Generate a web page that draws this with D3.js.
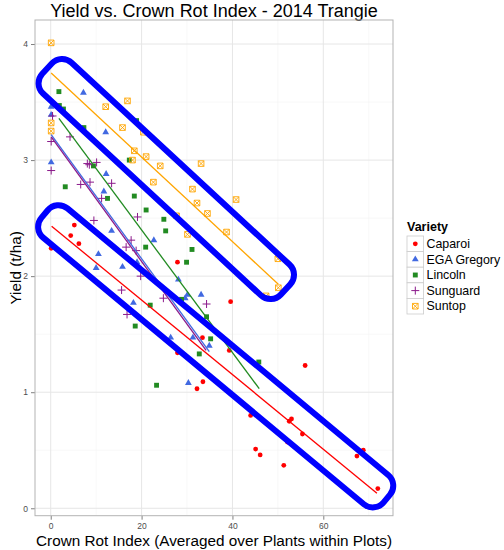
<!DOCTYPE html>
<html>
<head>
<meta charset="utf-8">
<title>Yield vs. Crown Rot Index - 2014 Trangie</title>
<script src="https://d3js.org/d3.v7.min.js"></script>
<style>
  body { margin: 0; background: #fff; }
  svg { display: block; font-family: "Liberation Sans", Arial, sans-serif; }
</style>
</head>
<body>
<div id="chart"></div>
<script>
// ---- data ----
const varieties = ["Caparoi", "EGA Gregory", "Lincoln", "Sunguard", "Suntop"];
const colours = ["#FF0000", "#4169E1", "#228B22", "#8B1A8B", "#FFA500"];

const caparoiX = [0.1, 4.4, 5.2, 6.2, 27.9, 39.6, 33.4, 27.9, 39.3, 56.0, 33.5, 32.2, 44.0, 52.5, 53.0, 55.4, 52.1, 45.1, 46.1, 51.3, 68.8, 67.4, 72.0];
const caparoiY = [2.24, 2.35, 2.44, 2.28, 2.12, 1.78, 1.47, 1.34, 1.36, 1.23, 1.09, 1.03, 0.80, 0.75, 0.77, 0.64, 0.57, 0.51, 0.46, 0.37, 0.50, 0.45, 0.17];

const gregoryX = [0.1, 0.1, 7.2, 12.1, 0.1, 12.2, 11.7, 13.4, 22.7, 10.5, 10.0, 15.8, 19.0, 28.1, 18.2, 29.6, 30.1, 33.1, 26.4, 31.3, 34.9, 30.3];
const gregoryY = [3.46, 3.39, 3.58, 3.24, 2.98, 2.88, 2.73, 2.39, 2.31, 2.19, 2.07, 2.08, 2.12, 1.97, 1.77, 1.81, 1.84, 1.84, 1.47, 1.47, 1.40, 1.08];

const lincolnX = [1.8, 1.9, 2.8, 7.3, 18.9, 17.3, 9.4, 3.2, 18.4, 12.5, 21.0, 24.9, 25.3, 20.9, 31.1, 29.9, 21.9, 28.8, 18.6, 34.3, 35.2, 32.7, 45.8, 23.3];
const lincolnY = [3.59, 3.47, 3.44, 3.28, 3.34, 3.00, 2.95, 2.77, 2.69, 2.67, 2.57, 2.49, 2.39, 2.25, 2.23, 2.12, 1.75, 1.80, 1.57, 1.65, 1.46, 1.33, 1.26, 1.06];

const sunguardX = [0.4, 4.25, 0.1, 0.1, 8.06, 8.5, 10.1, 6.6, 8.65, 13.4, 11.2, 19.1, 9.5, 17.7, 16.6, 18.8, 19.8, 15.6, 16.8, 24.8, 34.3];
const sunguardY = [3.38, 3.20, 3.16, 2.91, 2.97, 2.96, 2.98, 2.79, 2.81, 2.80, 2.67, 2.51, 2.48, 2.31, 2.25, 2.22, 2.00, 1.88, 1.67, 1.81, 1.76];

const suntopX = [0.1, 12.1, 16.9, 0.1, 15.8, 0.1, 20.4, 18.4, 21.0, 18.0, 24.1, 33.1, 22.6, 31.2, 32.2, 40.8, 34.5, 27.7, 30.1, 38.7, 50.0, 50.1, 47.4];
const suntopY = [4.01, 3.46, 3.51, 3.32, 3.28, 3.25, 3.24, 3.08, 3.03, 3.00, 2.95, 2.97, 2.81, 2.75, 2.63, 2.66, 2.54, 2.52, 2.36, 2.38, 2.15, 1.90, 1.83];

// fitted lines (one per variety, same order), end points
const fitX0 = [0.2, 0.1, 1.8, 0.1, 0.1];
const fitY0 = [2.43, 3.22, 3.36, 3.20, 3.75];
const fitX1 = [71.8, 34.9, 45.9, 34.2, 50.1];
const fitY1 = [0.13, 1.35, 1.03, 1.36, 1.93];

const xTicks = [0, 20, 40, 60];
const yTicks = [0, 1, 2, 3, 4];

// blue highlight bands: centre line end points in data units
const bandStart = [[-0.81, 3.788], [-1.36, 2.535]];
const bandEnd = [[51.68, 1.885], [73.98, 0.084]];

// ---- layout ----
const width = 504, height = 550;
const panel = {left: 35, right: 393, top: 20, bottom: 515.7};

const svg = d3.select("#chart").append("svg")
    .attr("width", width)
    .attr("height", height);

const x = d3.scaleLinear().domain([-3.46, 75.34]).range([panel.left, panel.right]);
const y = d3.scaleLinear().domain([-0.064, 4.207]).range([panel.bottom, panel.top]);

const series = [
    {xs: caparoiX, ys: caparoiY},
    {xs: gregoryX, ys: gregoryY},
    {xs: lincolnX, ys: lincolnY},
    {xs: sunguardX, ys: sunguardY},
    {xs: suntopX, ys: suntopY}
].map((s, i) => ({name: varieties[i], colour: colours[i], shape: i,
    points: s.xs.map((v, j) => [v, s.ys[j]]),
    fit: [[fitX0[i], fitY0[i]], [fitX1[i], fitY1[i]]]}));

// title
svg.append("text")
    .attr("x", (panel.left + panel.right) / 2)
    .attr("y", 17)
    .attr("text-anchor", "middle")
    .style("font-size", "18px")
    .text("Yield vs. Crown Rot Index - 2014 Trangie");

// grid
const grid = svg.append("g");
[10, 30, 50, 70].forEach(v => grid.append("line")
    .attr("x1", x(v)).attr("x2", x(v)).attr("y1", panel.top).attr("y2", panel.bottom)
    .attr("stroke", "#F4F4F4").attr("stroke-width", 0.6));
[0.5, 1.5, 2.5, 3.5].forEach(v => grid.append("line")
    .attr("y1", y(v)).attr("y2", y(v)).attr("x1", panel.left).attr("x2", panel.right)
    .attr("stroke", "#F4F4F4").attr("stroke-width", 0.6));
xTicks.forEach(v => grid.append("line")
    .attr("x1", x(v)).attr("x2", x(v)).attr("y1", panel.top).attr("y2", panel.bottom)
    .attr("stroke", "#E6E6E6").attr("stroke-width", 1));
yTicks.forEach(v => grid.append("line")
    .attr("y1", y(v)).attr("y2", y(v)).attr("x1", panel.left).attr("x2", panel.right)
    .attr("stroke", "#E6E6E6").attr("stroke-width", 1));

// axes
const xAxis = svg.append("g")
    .attr("transform", `translate(0,${panel.bottom})`)
    .call(d3.axisBottom(x).tickValues(xTicks).tickFormat(d3.format("d")).tickSize(4).tickPadding(3));
const yAxis = svg.append("g")
    .attr("transform", `translate(${panel.left},0)`)
    .call(d3.axisLeft(y).tickValues(yTicks).tickFormat(d3.format("d")).tickSize(4).tickPadding(3));
[xAxis, yAxis].forEach(a => {
    a.select(".domain").remove();
    a.selectAll(".tick line").attr("stroke", "#7F7F7F");
    a.selectAll(".tick text").attr("fill", "#4D4D4D")
        .style("font-size", "8.5px").style("font-family", "'Liberation Sans', Arial, sans-serif");
});

svg.append("rect")
    .attr("x", panel.left).attr("y", panel.top)
    .attr("width", panel.right - panel.left).attr("height", panel.bottom - panel.top)
    .attr("fill", "none").attr("stroke", "#B3B3B3").attr("stroke-width", 1);

// axis titles
svg.append("text")
    .attr("x", (panel.left + panel.right) / 2)
    .attr("y", 546)
    .attr("text-anchor", "middle")
    .style("font-size", "15.3px")
    .text("Crown Rot Index (Averaged over Plants within Plots)");
svg.append("text")
    .attr("transform", `translate(21,${(panel.top + panel.bottom) / 2}) rotate(-90)`)
    .attr("text-anchor", "middle")
    .style("font-size", "15.3px")
    .text("Yield (t/ha)");

// point symbols
function drawSymbol(g, shape, colour) {
    if (shape === 0) {
        g.append("circle").attr("r", 2.4).attr("fill", colour);
    } else if (shape === 1) {
        g.append("path").attr("d", d3.symbol(d3.symbolTriangle, 20)()).attr("fill", colour);
    } else if (shape === 2) {
        g.append("path").attr("d", d3.symbol(d3.symbolSquare, 24)()).attr("fill", colour);
    } else if (shape === 3) {
        g.append("path").attr("d", "M-4,0H4M0,-4V4")
            .attr("stroke", colour).attr("stroke-width", 1).attr("fill", "none");
    } else {
        g.append("path").attr("d", "M-2.8,-2.8H2.8V2.8H-2.8ZM-2.8,-2.8L2.8,2.8M2.8,-2.8L-2.8,2.8")
            .attr("stroke", colour).attr("stroke-width", 0.9).attr("fill", "none");
    }
}

const plot = svg.append("g");
series.forEach(s => {
    s.points.forEach(p => {
        const g = plot.append("g").attr("transform", `translate(${x(p[0])},${y(p[1])})`);
        drawSymbol(g, s.shape, s.colour);
    });
});

// fitted lines
const line = d3.line().x(d => x(d[0])).y(d => y(d[1]));
series.forEach(s => {
    plot.append("path")
        .attr("d", line(s.fit))
        .attr("stroke", s.colour).attr("stroke-width", 1.3).attr("fill", "none");
});

// blue highlight bands
bandStart.forEach((a, i) => {
    const p1 = [x(a[0]), y(a[1])], p2 = [x(bandEnd[i][0]), y(bandEnd[i][1])];
    const len = Math.hypot(p2[0] - p1[0], p2[1] - p1[1]);
    const ang = Math.atan2(p2[1] - p1[1], p2[0] - p1[0]) * 180 / Math.PI;
    const w = i === 0 ? 42 : 38;
    svg.append("rect")
        .attr("transform", `translate(${(p1[0] + p2[0]) / 2},${(p1[1] + p2[1]) / 2}) rotate(${ang})`)
        .attr("x", -len / 2).attr("y", -w / 2)
        .attr("width", len).attr("height", w)
        .attr("rx", 14).attr("ry", 14)
        .attr("fill", "none").attr("stroke", "#0000FF").attr("stroke-width", 6);
});

// legend
const legend = svg.append("g").attr("transform", "translate(407,0)");
legend.append("text")
    .attr("x", 0).attr("y", 231)
    .style("font-size", "12.5px").style("font-weight", "bold")
    .text("Variety");
series.forEach((s, i) => {
    const top = 236 + i * 15.6;
    legend.append("rect")
        .attr("x", 0).attr("y", top).attr("width", 16.6).attr("height", 15.6)
        .attr("fill", "#fff").attr("stroke", "#CCCCCC").attr("stroke-width", 0.8);
    const g = legend.append("g").attr("transform", `translate(8.3,${top + 7.8})`);
    drawSymbol(g, s.shape, s.colour);
    legend.append("text")
        .attr("x", 19.5).attr("y", top + 12)
        .style("font-size", "12.4px")
        .text(s.name);
});
</script>
</body>
</html>
